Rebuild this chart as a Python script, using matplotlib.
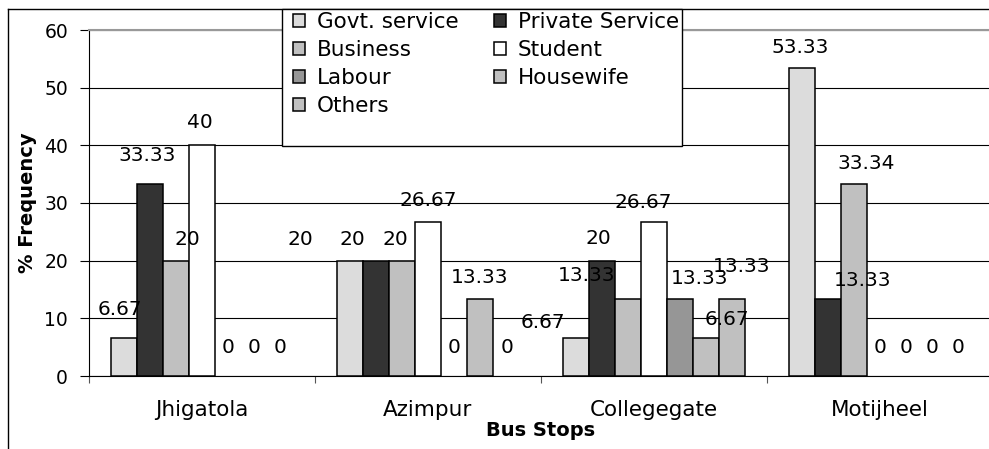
import numpy as np
import matplotlib
matplotlib.use("Agg")
import matplotlib.pyplot as plt
from matplotlib.patches import Rectangle
from matplotlib.lines import Line2D

stops = ["Jhigatola", "Azimpur", "Collegegate", "Motijheel"]
series = ["Govt. service", "Private Service", "Business", "Student",
          "Labour", "Housewife", "Others"]
govt = [6.67, 20, 6.67, 53.33]
private = [33.33, 20, 20, 13.33]
business = [20, 20, 13.33, 33.34]
student = [40, 26.67, 26.67, 0]
labour = [0, 0, 13.33, 0]
housewife = [0, 13.33, 6.67, 0]
others = [0, 0, 13.33, 0]
labels = [["6.67", "20", "6.67", "53.33"],
          ["33.33", "20", "20", "13.33"],
          ["20", "20", "13.33", "33.34"],
          ["40", "26.67", "26.67", "0"],
          ["0", "0", "13.33", "0"],
          ["0", "13.33", "6.67", "0"],
          ["0", "0", "13.33", "0"]]

colors = ["#dcdcdc", "#333333", "#c0c0c0", "#ffffff", "#969696", "#c0c0c0", "#c0c0c0"]

# label nudges in pixels (dx, gap above bar), per series x stop
label_dx = [[-4, -50, -33, -2],
            [-3, -24, -4, 35],
            [11, -7, -41, 12],
            [-2, 0, -11, 0],
            [0, 0, 20, 0],
            [0, 0, 21, 0],
            [0, 1, 10, 0]]
label_dy = [[19, 12, 6, 11],
            [19, 12, 13, 9],
            [12, 12, 14, 11],
            [13, 12, 10, 19],
            [19, 19, 11, 19],
            [19, 12, 9, 19],
            [19, 19, 23, 19]]

values = [govt, private, business, student, labour, housewife, others]

fig = plt.figure(figsize=(9.89, 4.49), dpi=100)
ax = fig.add_axes([89 / 989, 73 / 449, 904 / 989, 346 / 449])

x = np.arange(len(stops))
width = 0.805 / len(series)
bars = []
for j, (name, vals) in enumerate(zip(series, values)):
    pos = x - 0.805 / 2 + width * (j + 0.5)
    # excel doesn't outline empty bars
    lw = [1.1 if v > 0 else 0 for v in vals]
    b = ax.bar(pos, vals, width, color=colors[j], edgecolor="black",
               linewidth=lw, label=name, zorder=3)
    bars.append(b)
    for i in range(len(stops)):
        ax.annotate(labels[j][i], (pos[i], vals[i]),
                    xytext=(label_dx[j][i], label_dy[j][i]),
                    textcoords="offset pixels", ha="center", va="bottom",
                    fontsize=14.5, zorder=4)

ax.set_xlim(-0.5, 3.5)
ax.set_ylim(0, 60)
ax.set_yticks(range(0, 61, 10))
ax.yaxis.grid(True, color="black", linewidth=0.8)
ax.set_axisbelow(True)
ax.tick_params(axis="y", labelsize=13.5, length=6.5, width=0.8, pad=8.6)

ax.set_xticks(x)
ax.set_xticklabels(stops)
ax.tick_params(axis="x", which="major", length=0, labelsize=15.5, pad=17)
ax.set_xticks(np.arange(-0.5, 3.6, 1), minor=True)
ax.tick_params(axis="x", which="minor", length=5, width=0.8, color="#555555")

ax.spines["right"].set_visible(False)
ax.spines["top"].set_color("#999999")
ax.spines["top"].set_linewidth(1.5)
ax.spines["left"].set_linewidth(0.8)
ax.spines["bottom"].set_linewidth(0.8)

ax.set_ylabel("% Frequency", fontsize=14, fontweight="bold")
ax.yaxis.set_label_coords(-0.0575, 0.5)
ax.set_xlabel("Bus Stops", fontsize=14, fontweight="bold")
ax.xaxis.set_label_coords(0.5, -0.13)

# legend box and entries (row-wise order like the original)
fig.add_artist(Rectangle((282 / 989, (449 - 146) / 449), 400 / 989, 137 / 449,
                         transform=fig.transFigure, facecolor="white",
                         edgecolor="black", linewidth=1, zorder=3))
order = [0, 2, 4, 6, 1, 3, 5]
handles = [bars[k].patches[2] for k in order]
fig.legend(handles, [series[k] for k in order],
           loc="upper left", bbox_to_anchor=(293 / 989, 436.5 / 449),
           ncol=2, frameon=False, fontsize=15.5, borderpad=0,
           handlelength=0.56, handleheight=0.56, handletextpad=0.56,
           labelspacing=0.36, columnspacing=1.63, borderaxespad=0)

# outer chart border
fig.add_artist(Line2D([8 / 989, 1.0], [1 - 9 / 449, 1 - 9 / 449],
                      transform=fig.transFigure, color="black", linewidth=1))
fig.add_artist(Line2D([8 / 989, 8 / 989], [0, 1 - 9 / 449],
                      transform=fig.transFigure, color="black", linewidth=1))

fig.savefig("out.png", dpi=100)
